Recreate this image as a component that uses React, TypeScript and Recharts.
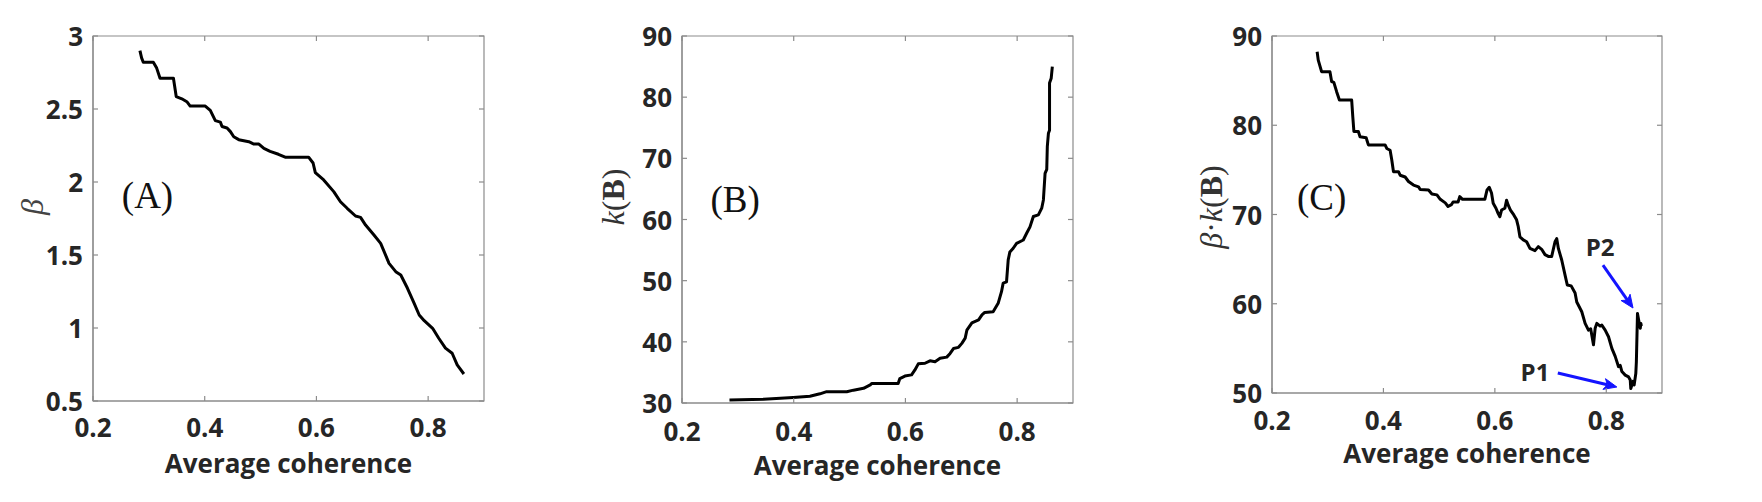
import React from 'react';
import { LineChart, Line, XAxis, YAxis, ReferenceLine, ReferenceDot, ReferenceArea } from 'recharts';

// ---------- data ----------
const coherenceTicks = [0.2, 0.4, 0.6, 0.8];
const betaTicks = [0.5, 1, 1.5, 2, 2.5, 3];
const kTicks = [30, 40, 50, 60, 70, 80, 90];
const bkTicks = [50, 60, 70, 80, 90];

const betaX = [0.284, 0.287, 0.29, 0.308, 0.314, 0.32, 0.344, 0.349, 0.359, 0.368,
  0.374, 0.401, 0.41, 0.419, 0.428, 0.431, 0.44, 0.446, 0.452, 0.461,
  0.479, 0.488, 0.497, 0.506, 0.517, 0.532, 0.544, 0.586, 0.594, 0.598,
  0.613, 0.631, 0.643, 0.655, 0.67, 0.679, 0.688, 0.703, 0.715, 0.73,
  0.742, 0.751, 0.763, 0.775, 0.784, 0.793, 0.808, 0.819, 0.831, 0.843,
  0.852, 0.864];
const betaY = [2.9, 2.85, 2.82, 2.82, 2.78, 2.71, 2.71, 2.585, 2.57, 2.55,
  2.52, 2.52, 2.49, 2.42, 2.41, 2.38, 2.37, 2.345, 2.31, 2.29,
  2.276, 2.26, 2.26, 2.23, 2.21, 2.19, 2.17, 2.17, 2.13, 2.064,
  2.014, 1.934, 1.865, 1.82, 1.767, 1.758, 1.705, 1.637, 1.58, 1.443,
  1.386, 1.363, 1.272, 1.169, 1.089, 1.05, 0.998, 0.93, 0.862, 0.827,
  0.747, 0.685];

const kX = [0.285, 0.346, 0.399, 0.429, 0.447, 0.459, 0.495, 0.507, 0.525, 0.537,
  0.54, 0.587, 0.59, 0.599, 0.611, 0.617, 0.623, 0.635, 0.644, 0.653,
  0.662, 0.674, 0.68, 0.686, 0.695, 0.701, 0.707, 0.71, 0.719, 0.731,
  0.737, 0.742, 0.757, 0.766, 0.772, 0.775, 0.781, 0.784, 0.787, 0.793,
  0.799, 0.811, 0.817, 0.823, 0.829, 0.838, 0.844, 0.847, 0.85, 0.853,
  0.854, 0.856, 0.858, 0.858, 0.861, 0.863];
const kY = [30.5, 30.6, 30.9, 31.1, 31.5, 31.85, 31.85, 32.1, 32.4, 32.95,
  33.2, 33.2, 34.0, 34.4, 34.6, 35.4, 36.4, 36.5, 36.9, 36.75,
  37.3, 37.5, 38.1, 38.9, 39.1, 39.75, 40.6, 41.9, 43.1, 43.6,
  44.4, 44.8, 44.9, 46.3, 48.2, 49.6, 49.8, 53.4, 54.7, 55.3,
  56.1, 56.65, 57.75, 58.8, 60.5, 60.75, 61.85, 63.2, 67.55, 68.2,
  71.9, 74.1, 74.6, 82.3, 83.1, 85.0];

const bkX = [0.281, 0.283, 0.289, 0.304, 0.307, 0.311, 0.316, 0.321, 0.343, 0.345,
  0.347, 0.355, 0.358, 0.369, 0.373, 0.403, 0.406, 0.412, 0.415, 0.418,
  0.427, 0.43, 0.439, 0.445, 0.454, 0.463, 0.466, 0.481, 0.487, 0.496,
  0.502, 0.511, 0.516, 0.522, 0.525, 0.534, 0.537, 0.542, 0.582, 0.586,
  0.59, 0.594, 0.597, 0.602, 0.606, 0.609, 0.612, 0.618, 0.621, 0.624,
  0.628, 0.634, 0.639, 0.642, 0.645, 0.651, 0.657, 0.663, 0.672, 0.678,
  0.684, 0.69, 0.696, 0.702, 0.708, 0.711, 0.714, 0.72, 0.726, 0.73,
  0.737, 0.744, 0.747, 0.756, 0.762, 0.768, 0.772, 0.777, 0.78, 0.783,
  0.789, 0.792, 0.798, 0.804, 0.81, 0.816, 0.822, 0.825, 0.828, 0.834,
  0.84, 0.843, 0.844, 0.848, 0.85, 0.853, 0.854, 0.856, 0.858, 0.861,
  0.862, 0.863];
const bkY = [88.24, 87.3, 86.0, 86.0, 84.9, 84.8, 83.76, 82.83, 82.83, 80.96,
  79.3, 79.3, 78.7, 78.6, 77.8, 77.8, 77.4, 77.2, 76.1, 74.8,
  74.8, 74.4, 74.2, 73.7, 73.3, 73.1, 72.8, 72.75, 72.3, 72.2,
  71.7, 71.3, 70.9, 71.1, 71.4, 71.4, 72.0, 71.7, 71.7, 72.75,
  73.05, 72.4, 71.25, 70.7, 70.1, 69.75, 70.5, 70.7, 71.6, 71.05,
  70.5, 69.95, 69.4, 68.63, 67.5, 67.15, 66.95, 66.2, 65.95, 66.4,
  66.1, 65.5, 65.3, 65.3, 66.95, 67.3, 66.2, 64.9, 63.2, 62.1,
  62.0, 61.2, 60.2, 59.1, 57.8, 57.05, 57.2, 55.4, 57.25, 57.8,
  57.5, 57.6, 57.05, 56.3, 55.0, 54.1, 52.95, 53.1, 52.4, 52.0,
  51.8, 51.46, 50.5, 51.3, 50.9, 52.2, 53.5, 58.9, 58.2, 57.25,
  57.8, 57.5];

const zip = (xs: number[], ys: number[]) =>
  xs.slice(0, Math.min(xs.length, ys.length)).map((x, i) => ({ x, y: ys[i] }));

const betaData = zip(betaX, betaY);
const kData = zip(kX, kY);
const bkData = zip(bkX, bkY);

// ---------- styles ----------
const AXIS_COLOR = '#8c8c8c';
const SANS = '"Open Sans", "Noto Sans", sans-serif';
const SERIF = '"Liberation Serif", "DejaVu Serif", serif';
const TICK_FONT = { fontFamily: SANS, fontWeight: 700, fontSize: 26, fill: '#262626' } as const;
const TICK_LEN = 5;
const PLOT_TOP = 36;

const BottomTick = (p: any) => (
  <g>
    <line x1={p.x} x2={p.x} y1={p.y} y2={p.y - TICK_LEN} stroke={AXIS_COLOR} strokeWidth={1.2} />
    <line x1={p.x} x2={p.x} y1={PLOT_TOP} y2={PLOT_TOP + TICK_LEN} stroke={AXIS_COLOR} strokeWidth={1.2} />
    <text x={p.x} y={p.y + p.labelDy} textAnchor="middle" dominantBaseline="central" {...TICK_FONT}>
      {String(p.payload.value)}
    </text>
  </g>
);
const LeftTick = (p: any) => (
  <g>
    <line x1={p.x} x2={p.x + TICK_LEN} y1={p.y} y2={p.y} stroke={AXIS_COLOR} strokeWidth={1.2} />
    <line x1={p.plotRight} x2={p.plotRight - TICK_LEN} y1={p.y} y2={p.y} stroke={AXIS_COLOR} strokeWidth={1.2} />
    <text x={p.x - 10} y={p.y} textAnchor="end" dominantBaseline="central" {...TICK_FONT}>
      {String(p.payload.value)}
    </text>
  </g>
);

const ArrowShape = (p: any) => {
  const { x1, y1, x2, y2 } = p;
  const dx = x2 - x1;
  const dy = y2 - y1;
  const len = Math.sqrt(dx * dx + dy * dy) || 1;
  const ux = dx / len;
  const uy = dy / len;
  const hl = 13;
  const hw = 5.5;
  const bx = x2 - ux * hl;
  const by = y2 - uy * hl;
  const nx = x2 - ux * hl * 0.75;
  const ny = y2 - uy * hl * 0.75;
  const col = 'rgb(20,20,255)';
  return (
    <g>
      <line x1={x1} y1={y1} x2={nx} y2={ny} stroke={col} strokeWidth={3} />
      <polygon
        points={`${x2},${y2} ${bx - uy * hw},${by + ux * hw} ${nx},${ny} ${bx + uy * hw},${by - ux * hw}`}
        fill={col}
        stroke={col}
        strokeWidth={1}
      />
    </g>
  );
};

const rotLabel = (cx: number, cy: number, children: React.ReactNode, fill = '#333') => (
  <text
    x={cx}
    y={cy}
    transform={`rotate(-90, ${cx}, ${cy})`}
    textAnchor="middle"
    dominantBaseline="central"
    fontFamily={SERIF}
    fontSize={32}
    fill={fill}
  >
    {children}
  </text>
);

const panelLetter = (t: string) => ({
  value: t,
  position: 'center' as const,
  fontFamily: SERIF,
  fontSize: 37,
  fill: '#111',
});

const pLabel = (t: string) => ({
  value: t,
  position: 'center' as const,
  fontFamily: SANS,
  fontWeight: 700,
  fontSize: 24,
  fill: '#262626',
});

type PanelProps = {
  left: number;
  width: number;
  yAxisWidth: number;
  xAxisHeight: number;
  rightMargin: number;
  data: { x: number; y: number }[];
  yDomain: [number, number];
  yTicks: number[];
  tickDy: number;
  xLabelOffset: number;
  yLabel: () => React.ReactNode;
  children?: React.ReactNode;
};

const Panel = (props: PanelProps) => {
  const {
    left, width, yAxisWidth, xAxisHeight, rightMargin, data, yDomain, yTicks,
    tickDy, xLabelOffset, yLabel, children,
  } = props;
  const plotRight = width - rightMargin;
  return (
    <div style={{ position: 'absolute', left, top: 0 }}>
      <LineChart
        width={width}
        height={502}
        data={data}
        margin={{ top: PLOT_TOP, right: rightMargin, bottom: 0, left: 0 }}
      >
        <XAxis
          dataKey="x"
          type="number"
          domain={[0.2, 0.9]}
          ticks={coherenceTicks}
          allowDataOverflow
          height={xAxisHeight}
          tickSize={0}
          tickMargin={0}
          tickLine={false}
          axisLine={{ stroke: AXIS_COLOR, strokeWidth: 1.2 }}
          tick={(p: any) => <BottomTick {...p} labelDy={tickDy} />}
          label={{
            value: 'Average coherence',
            position: 'insideBottom',
            offset: xLabelOffset,
            fontFamily: SANS,
            fontWeight: 700,
            fontSize: 26,
            fill: '#262626',
          }}
        />
        <YAxis
          type="number"
          domain={yDomain}
          ticks={yTicks}
          allowDataOverflow
          width={yAxisWidth}
          tickSize={0}
          tickMargin={0}
          tickLine={false}
          axisLine={{ stroke: AXIS_COLOR, strokeWidth: 1.2 }}
          tick={(p: any) => <LeftTick {...p} plotRight={plotRight} />}
          label={{ content: () => yLabel() }}
        />
        <ReferenceArea
          x1={0.2}
          x2={0.9}
          y1={yDomain[0]}
          y2={yDomain[1]}
          fill="none"
          fillOpacity={0}
          stroke={AXIS_COLOR}
          strokeWidth={1.2}
          strokeOpacity={1}
          ifOverflow="visible"
        />
        <Line
          dataKey="y"
          type="linear"
          stroke="#000"
          strokeWidth={3}
          strokeLinejoin="round"
          dot={false}
          activeDot={false}
          isAnimationActive={false}
        />
        {children}
      </LineChart>
    </div>
  );
};

export default function App() {
  return (
    <div
      style={{
        position: 'absolute',
        left: 0,
        top: 0,
        width: 1762,
        height: 502,
        background: '#fff',
        overflow: 'hidden',
      }}
    >
      <Panel
        left={0}
        width={500}
        yAxisWidth={93}
        xAxisHeight={101}
        rightMargin={16}
        data={betaData}
        yDomain={[0.5, 3]}
        yTicks={betaTicks}
        tickDy={26}
        xLabelOffset={29}
        yLabel={() => rotLabel(32, 207, <tspan fontStyle="italic">β</tspan>, '#444')}
      >
        <ReferenceDot x={0.2976} y={1.91} r={0} fill="none" stroke="none" label={panelLetter('(A)')} />
      </Panel>
      <Panel
        left={580}
        width={510}
        yAxisWidth={102}
        xAxisHeight={99}
        rightMargin={17}
        data={kData}
        yDomain={[30, 90]}
        yTicks={kTicks}
        tickDy={28}
        xLabelOffset={27}
        yLabel={() =>
          rotLabel(
            33,
            197,
            <>
              <tspan fontStyle="italic">k</tspan>
              <tspan>(</tspan>
              <tspan fontWeight={700}>B</tspan>
              <tspan>)</tspan>
            </>,
          )
        }
      >
        <ReferenceDot x={0.295} y={63.32} r={0} fill="none" stroke="none" label={panelLetter('(B)')} />
      </Panel>
      <Panel
        left={1160}
        width={520}
        yAxisWidth={112}
        xAxisHeight={109}
        rightMargin={18}
        data={bkData}
        yDomain={[50, 90]}
        yTicks={bkTicks}
        tickDy={27}
        xLabelOffset={39}
        yLabel={() =>
          rotLabel(
            51,
            207,
            <>
              <tspan fontStyle="italic">β</tspan>
              <tspan>·</tspan>
              <tspan fontStyle="italic">k</tspan>
              <tspan>(</tspan>
              <tspan fontWeight={700}>B</tspan>
              <tspan>)</tspan>
            </>,
          )
        }
      >
        <ReferenceDot x={0.289} y={71.94} r={0} fill="none" stroke="none" label={panelLetter('(C)')} />
        <ReferenceLine
          segment={[{ x: 0.713, y: 52.24 }, { x: 0.819, y: 50.67 }]}
          shape={ArrowShape}
        />
        <ReferenceLine
          segment={[{ x: 0.794, y: 64.34 }, { x: 0.848, y: 59.52 }]}
          shape={ArrowShape}
        />
        <ReferenceDot x={0.672} y={52.35} r={0} fill="none" stroke="none" label={pLabel('P1')} />
        <ReferenceDot x={0.789} y={66.36} r={0} fill="none" stroke="none" label={pLabel('P2')} />
      </Panel>
    </div>
  );
}
